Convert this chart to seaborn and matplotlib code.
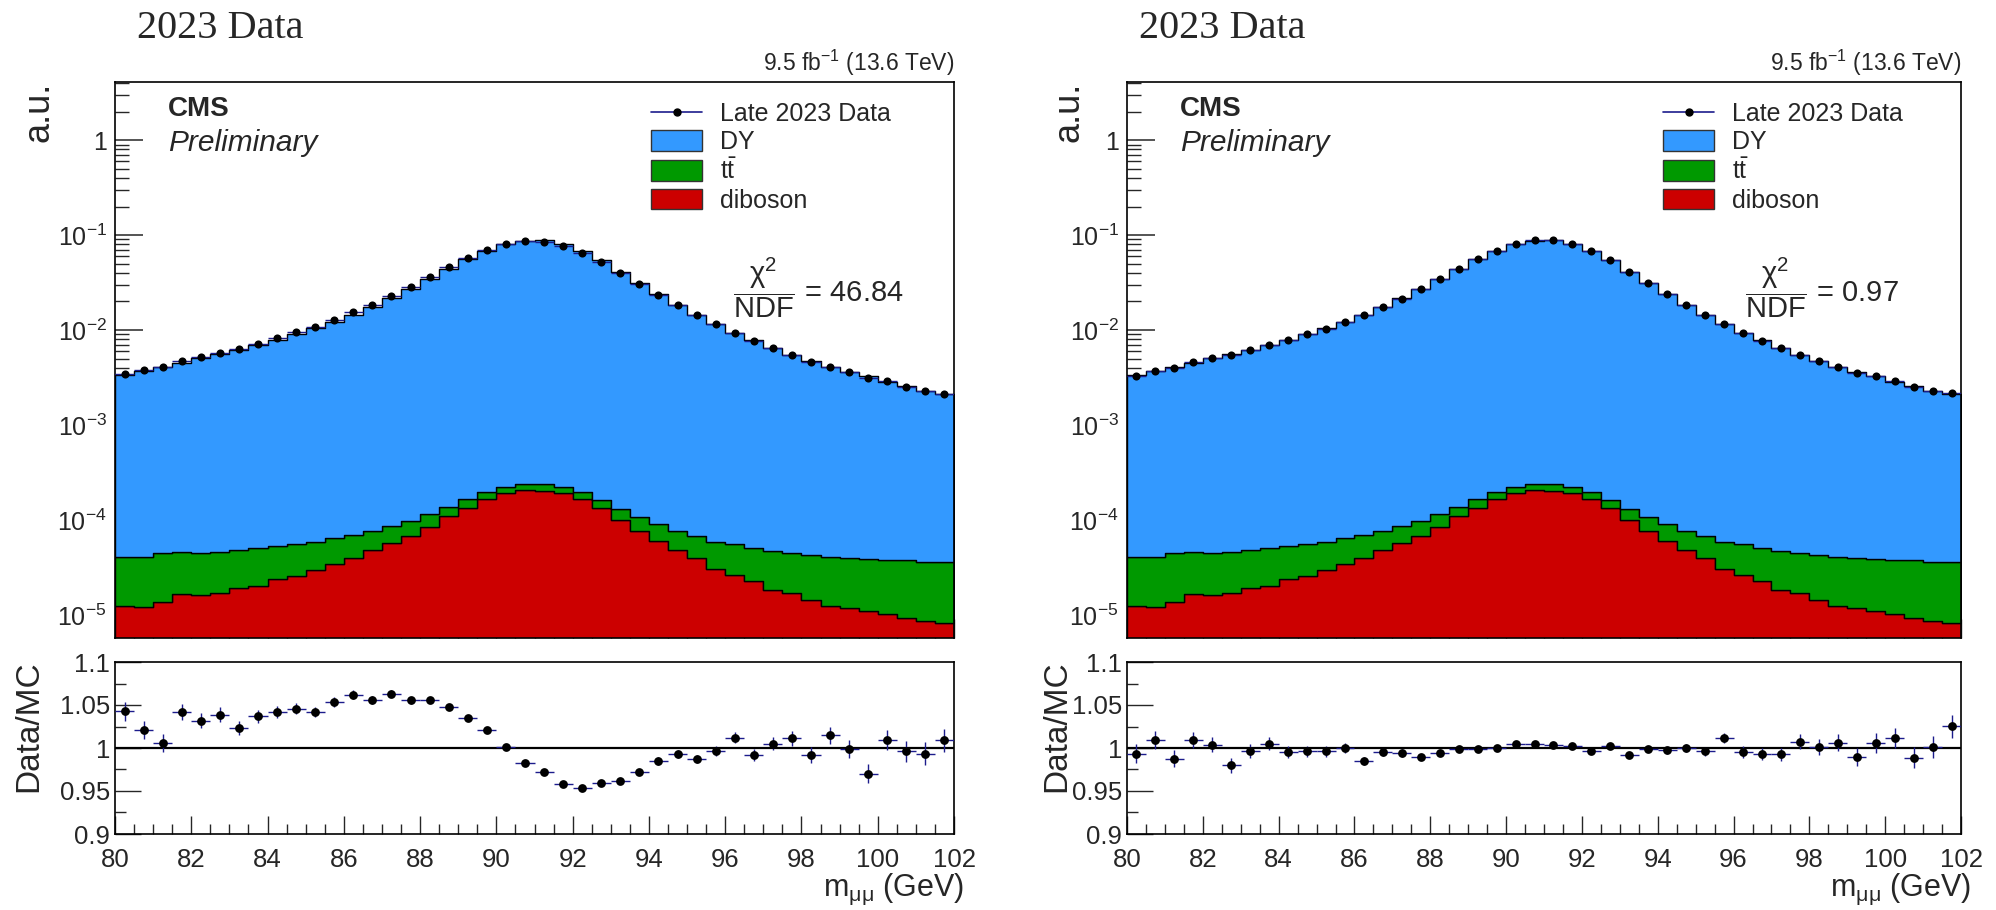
import numpy as np
import pandas as pd
import matplotlib
matplotlib.use("Agg")
import matplotlib.pyplot as plt
import seaborn as sns
from matplotlib.lines import Line2D
from matplotlib.patches import Patch
from matplotlib.ticker import FixedLocator, LogLocator, MultipleLocator, FuncFormatter, NullFormatter

# ---------------- binning ----------------
mass_lo, mass_hi, bin_width = 80.0, 102.0, 0.5
edges = np.arange(mass_lo, mass_hi + bin_width / 2, bin_width)
centers = 0.5 * (edges[:-1] + edges[1:])

# ---------------- simulated yields (a.u.) ----------------
dy = [3.28e-3, 3.64e-3, 4.035e-3, 4.47e-3, 4.975e-3, 5.50e-3, 6.15e-3, 6.90e-3,
      7.85e-3, 8.99e-3, 1.034e-2, 1.213e-2, 1.443e-2, 1.742e-2, 2.141e-2, 2.71e-2,
      3.44e-2, 4.366e-2, 5.533e-2, 6.83e-2, 7.98e-2, 8.73e-2, 8.78e-2, 8.03e-2,
      6.76e-2, 5.40e-2, 4.117e-2, 3.12e-2, 2.381e-2, 1.832e-2, 1.443e-2, 1.144e-2,
      9.245e-3, 7.75e-3, 6.40e-3, 5.405e-3, 4.657e-3, 4.01e-3, 3.56e-3, 3.21e-3,
      2.81e-3, 2.51e-3, 2.26e-3, 2.06e-3]
ttbar = [2.81e-5, 2.91e-5, 3.10e-5, 2.91e-5, 2.84e-5, 2.94e-5, 2.90e-5, 3.00e-5,
         2.99e-5, 2.99e-5, 2.94e-5, 3.11e-5, 2.99e-5, 2.91e-5, 3.03e-5, 2.91e-5,
         3.00e-5, 2.80e-5, 3.30e-5, 3.00e-5, 3.00e-5, 3.00e-5, 3.40e-5, 3.00e-5,
         3.00e-5, 2.90e-5, 3.10e-5, 2.89e-5, 2.95e-5, 2.83e-5, 2.84e-5, 2.81e-5,
         2.91e-5, 2.75e-5, 2.92e-5, 2.84e-5, 2.87e-5, 2.87e-5, 2.84e-5, 2.78e-5,
         2.81e-5, 2.80e-5, 2.74e-5, 2.77e-5]
diboson = [1.24e-5, 1.20e-5, 1.36e-5, 1.66e-5, 1.62e-5, 1.69e-5, 1.93e-5, 2.03e-5,
           2.37e-5, 2.59e-5, 2.97e-5, 3.41e-5, 4.01e-5, 4.80e-5, 5.68e-5, 6.84e-5,
           8.50e-5, 1.10e-4, 1.35e-4, 1.66e-4, 1.91e-4, 2.07e-4, 2.04e-4, 1.91e-4,
           1.66e-4, 1.33e-4, 1.00e-4, 7.71e-5, 6.05e-5, 4.83e-5, 3.94e-5, 3.05e-5,
           2.63e-5, 2.28e-5, 1.83e-5, 1.69e-5, 1.44e-5, 1.24e-5, 1.17e-5, 1.10e-5,
           1.01e-5, 9.35e-6, 8.69e-6, 8.15e-6]

# ---------------- data / MC ratios ----------------
ratio_left = [1.0426, 1.0205, 1.0058, 1.0415, 1.0318, 1.0388, 1.0236, 1.0368,
              1.0415, 1.0457, 1.0419, 1.0539, 1.0620, 1.0554, 1.0632, 1.0554,
              1.0562, 1.0477, 1.0353, 1.0205, 1.0012, 0.9826, 0.9721, 0.9578,
              0.9535, 0.9597, 0.9612, 0.9717, 0.9849, 0.9926, 0.9872, 0.9961,
              1.0120, 0.9919, 1.0050, 1.0112, 0.9915, 1.0147, 0.9992, 0.9702,
              1.0089, 0.9961, 0.9934, 1.0089]
ratio_right = [0.9934, 1.0089, 0.9876, 1.0097, 1.0039, 0.9798, 0.9961, 1.0050,
               0.9953, 0.9961, 0.9961, 1.0000, 0.9849, 0.9950, 0.9942, 0.9895,
               0.9946, 0.9992, 0.9992, 1.0004, 1.0050, 1.0050, 1.0039, 1.0019,
               0.9965, 1.0027, 0.9922, 0.9984, 0.9973, 1.0004, 0.9961, 1.0120,
               0.9953, 0.9926, 0.9926, 1.0074, 1.0012, 1.0062, 0.9895, 1.0058,
               1.0120, 0.9888, 1.0012, 1.0252]
ratio_err = [0.0109, 0.0104, 0.0099, 0.0094, 0.0089, 0.0085, 0.0080, 0.0076,
             0.0071, 0.0066, 0.0062, 0.0057, 0.0052, 0.0048, 0.0043, 0.0038,
             0.0034, 0.0030, 0.0027, 0.0024, 0.0022, 0.0021, 0.0021, 0.0022,
             0.0024, 0.0027, 0.0031, 0.0036, 0.0041, 0.0046, 0.0052, 0.0059,
             0.0065, 0.0071, 0.0078, 0.0085, 0.0092, 0.0099, 0.0105, 0.0111,
             0.0118, 0.0125, 0.0131, 0.0137]

chi2_labels = ["46.84", "0.97"]
panel_titles = ["2023 Data", "2023 Data"]
process_order = ["DY", "ttbar", "diboson"]
process_colors = {"DY": "#3399ff", "ttbar": "#009900", "diboson": "#cc0000"}
legend_labels = ["Late 2023 Data", "DY", r"$\mathrm{t\bar{t}}$", "diboson"]
lumi_label = r"9.5 fb$^{-1}$ (13.6 TeV)"
xaxis_label = r"m$_{\mathrm{\mu\mu}}$ (GeV)"
data_color = "#1c1c8c"

# ---------------- style ----------------
sns.set_theme(style="ticks")
plt.rcParams["font.family"] = ["Liberation Sans", "DejaVu Sans"]
plt.rcParams["mathtext.fontset"] = "custom"
plt.rcParams["mathtext.rm"] = "Liberation Sans"
plt.rcParams["mathtext.it"] = "Liberation Sans:italic"
plt.rcParams["mathtext.bf"] = "Liberation Sans:bold"
plt.rcParams["mathtext.sf"] = "Liberation Sans"
plt.rcParams["axes.linewidth"] = 1.2

mc_df = pd.DataFrame({
    "mass": np.tile(centers, 3),
    "yield": np.concatenate([dy, ttbar, diboson]),
    "process": np.repeat(process_order, len(centers)),
})
mc_total = np.asarray(dy) + np.asarray(ttbar) + np.asarray(diboson)

W, H = 1996, 910
fig = plt.figure(figsize=(W / 100, H / 100), dpi=100)


def fx(px):
    return px / W


def fy(py):
    return 1 - py / H


def log_label(v, _pos):
    e = int(round(np.log10(v)))
    return "1" if e == 0 else r"$10^{%d}$" % e


def draw_panel(x0, width, ratio, chi2, title, title_x, au_x, dmc_x):
    ax = fig.add_axes([fx(x0), fy(638), fx(width), fy(82) - fy(638)])
    rax = fig.add_axes([fx(x0), fy(834), fx(width), fy(662) - fy(834)])

    def axx(px):
        return (px - x0) / width

    def axy(py):
        return 1 - (py - 82) / 556

    # stacked simulation
    sns.histplot(data=mc_df, x="mass", weights="yield", hue="process",
                 hue_order=process_order, palette=process_colors,
                 binwidth=bin_width, binrange=(mass_lo, mass_hi),
                 multiple="stack", element="step", fill=True, alpha=1,
                 legend=False, ax=ax)
    for coll in ax.collections:
        coll.set_edgecolor("black")
        coll.set_linewidth(1.0)

    data = mc_total * np.asarray(ratio)
    ax.errorbar(centers, data, xerr=bin_width / 2, fmt="none",
                ecolor=data_color, elinewidth=1.0, zorder=4)
    sns.scatterplot(x=centers, y=data, color="black", s=34, linewidth=0,
                    zorder=5, ax=ax)

    ax.set_yscale("log")
    ax.set_xlim(mass_lo, mass_hi)
    ax.set_ylim(5.7e-6, 4.1)
    ax.set_xlabel("")
    ax.set_ylabel("")
    ax.yaxis.set_major_locator(FixedLocator([1e-5, 1e-4, 1e-3, 1e-2, 1e-1, 1]))
    ax.yaxis.set_minor_locator(LogLocator(base=10, subs=np.arange(2, 10), numticks=20))
    ax.yaxis.set_major_formatter(FuncFormatter(log_label))
    ax.yaxis.set_minor_formatter(NullFormatter())
    ax.xaxis.set_major_locator(MultipleLocator(2))
    ax.xaxis.set_minor_locator(MultipleLocator(0.5))
    ax.tick_params(axis="x", which="both", labelbottom=False)
    ax.tick_params(axis="y", which="major", length=20, width=1.1, direction="in", labelsize=18, pad=6)
    ax.tick_params(axis="y", which="minor", length=10, width=1.0, direction="in")
    ax.tick_params(axis="x", which="major", length=14, width=1.0, direction="in")
    ax.tick_params(axis="x", which="minor", length=7, width=1.0, direction="in")
    for s in ax.spines.values():
        s.set_visible(True)
        s.set_color("black")

    # legend
    handles = [
        Line2D([], [], color=data_color, lw=1.2, marker="o", ms=5,
               mfc="black", mec="black"),
        Patch(facecolor=process_colors["DY"], edgecolor="#333333", lw=1.0),
        Patch(facecolor=process_colors["ttbar"], edgecolor="#333333", lw=1.0),
        Patch(facecolor=process_colors["diboson"], edgecolor="#333333", lw=1.0),
    ]
    ax.legend(handles=handles, labels=legend_labels, loc="upper left",
              bbox_to_anchor=(axx(x0 + 536), axy(102)),
              frameon=False, fontsize=18, handlelength=2.05, handleheight=0.9,
              handletextpad=0.7, labelspacing=0.17, borderpad=0,
              borderaxespad=0)

    ax.text(axx(x0 + 53), axy(109), "CMS", fontsize=20,
            fontweight="bold", ha="left", va="center", transform=ax.transAxes)
    ax.text(axx(x0 + 53), axy(143), "Preliminary",
            fontsize=21.5, fontstyle="italic", ha="left", va="center",
            transform=ax.transAxes)
    ax.text(axx(x0 + 618), axy(288),
            r"$\dfrac{\mathrm{\chi}^{2}}{\mathrm{NDF}}$ = " + chi2, fontsize=21,
            ha="left", va="center", transform=ax.transAxes)
    ax.text(1.0, 1.008, lumi_label, fontsize=16.5, ha="right", va="bottom",
            transform=ax.transAxes)

    # ratio panel
    rax.axhline(1.0, color="black", lw=1.6, zorder=2)
    rax.errorbar(centers, ratio, xerr=bin_width / 2, yerr=ratio_err, fmt="none",
                 ecolor=data_color, elinewidth=1.0, zorder=3)
    sns.scatterplot(x=centers, y=ratio, color="black", s=40, linewidth=0,
                    zorder=4, ax=rax)
    rax.set_xlim(mass_lo, mass_hi)
    rax.set_ylim(0.9, 1.1)
    rax.set_xlabel("")
    rax.set_ylabel("")
    rax.yaxis.set_major_locator(MultipleLocator(0.05))
    rax.yaxis.set_minor_locator(MultipleLocator(0.025))
    rax.yaxis.set_major_formatter(FuncFormatter(lambda v, p: ("%.2f" % v).rstrip("0").rstrip(".")))
    rax.xaxis.set_major_locator(MultipleLocator(2))
    rax.xaxis.set_minor_locator(MultipleLocator(0.5))
    rax.tick_params(axis="both", which="major", direction="in", width=1.0, labelsize=18.5)
    rax.tick_params(axis="y", which="major", length=19)
    rax.tick_params(axis="y", which="minor", length=8, direction="in")
    rax.tick_params(axis="x", which="major", length=13, pad=10)
    rax.tick_params(axis="x", which="minor", length=7, direction="in")
    for s in rax.spines.values():
        s.set_visible(True)
        s.set_color("black")

    fig.text(fx(title_x), fy(29), title, fontsize=29, family="Liberation Serif",
             ha="left", va="center")
    fig.text(fx(au_x), fy(82), "a.u.", fontsize=26, rotation=90,
             ha="center", va="top")
    fig.text(fx(dmc_x), fy(660), "Data/MC", fontsize=24, rotation=90,
             ha="center", va="top")
    fig.text(fx(x0 + width + 10), fy(889), xaxis_label, fontsize=22,
             ha="right", va="center")


draw_panel(115, 839, ratio_left, chi2_labels[0], panel_titles[0], 137, 39, 29)
draw_panel(1127, 834, ratio_right, chi2_labels[1], panel_titles[1], 1139, 1069, 1057)

fig.savefig("out.png", dpi=100)
